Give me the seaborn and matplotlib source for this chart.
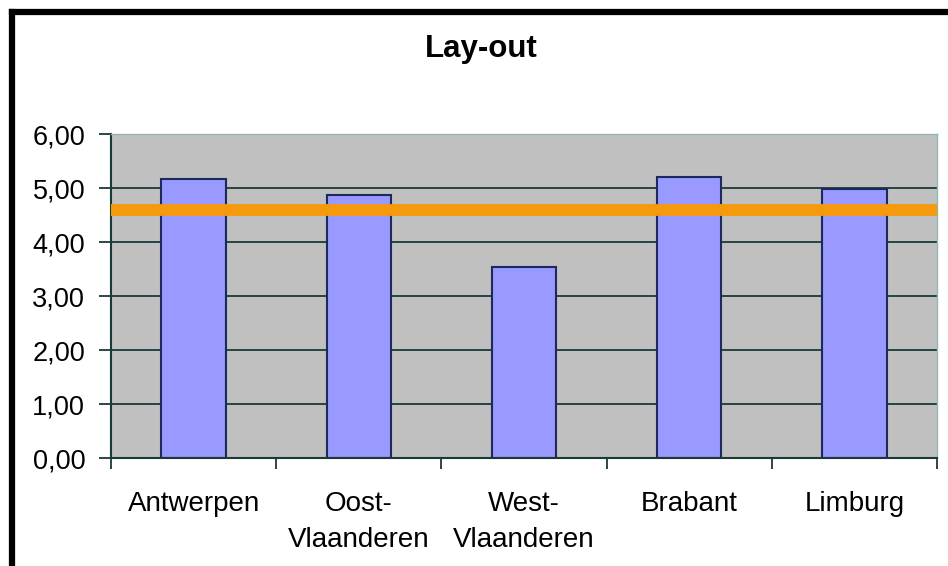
import matplotlib
matplotlib.use("Agg")
import matplotlib.pyplot as plt
from matplotlib.lines import Line2D
import seaborn as sns
import numpy as np

regions = ["Antwerpen", "Oost-\nVlaanderen", "West-\nVlaanderen", "Brabant", "Limburg"]
scores = [5.17, 4.87, 3.54, 5.20, 4.98]
average = 4.59
yticks = [0, 1, 2, 3, 4, 5, 6]

sns.set_style("white")
plt.rcParams["font.family"] = ["Liberation Sans", "DejaVu Sans"]
plt.rcParams["text.color"] = "black"
plt.rcParams["xtick.color"] = "black"
plt.rcParams["ytick.color"] = "black"

fig = plt.figure(figsize=(9.48, 5.66), dpi=100)
ax = fig.add_axes([111 / 948, 1 - 458 / 566, 826 / 948, 324 / 566])
ax.set_facecolor("#C0C0C0")

sns.barplot(x=regions, y=scores, color="#9999FF", saturation=1, width=0.39,
            edgecolor="#1A2A5A", linewidth=1.5, ax=ax)
ax.axhline(average, color="#F59A0C", lw=8.5, zorder=5)

ax.set_ylim(0, 6)
ax.set_xlim(-0.5, len(regions) - 0.5)
ax.set_yticks(yticks)
ax.set_yticklabels([f"{v:.2f}".replace(".", ",") for v in yticks], fontsize=19.5)
ax.yaxis.grid(True, color="#1A3A3A", lw=1.3)
ax.set_axisbelow(True)

ax.set_xticks(range(len(regions)))
ax.set_xticklabels(regions, fontsize=20, linespacing=1.5)
ax.set_xticks(np.arange(-0.5, len(regions)), minor=True)
ax.tick_params(axis="x", which="major", length=0, pad=24)
ax.tick_params(axis="x", which="minor", length=8, width=1.3, color="#1A3A3A", direction="out", bottom=True)
ax.tick_params(axis="y", length=8.6, width=1.3, color="#1A3A3A", direction="out", left=True, pad=10)
ax.set_xlabel("")
ax.set_ylabel("")

for s in ["left", "bottom"]:
    ax.spines[s].set_color("#1A3A3A")
    ax.spines[s].set_linewidth(1.5)
for s in ["top", "right"]:
    ax.spines[s].set_color("#8FB8B8")
    ax.spines[s].set_linewidth(1)

fig.text(481 / 948, 1 - 57 / 566, "Lay-out", ha="center", va="baseline",
         fontsize=22.5, fontweight="bold")

# black frame on left and top
fig.add_artist(Line2D([12 / 948, 12 / 948], [0, 1 - 12 / 566], color="black", lw=4.5,
                      transform=fig.transFigure, solid_capstyle="projecting"))
fig.add_artist(Line2D([12 / 948, 1], [1 - 12 / 566, 1 - 12 / 566], color="black", lw=4.5,
                      transform=fig.transFigure, solid_capstyle="projecting"))

fig.savefig("out.png", dpi=100)
